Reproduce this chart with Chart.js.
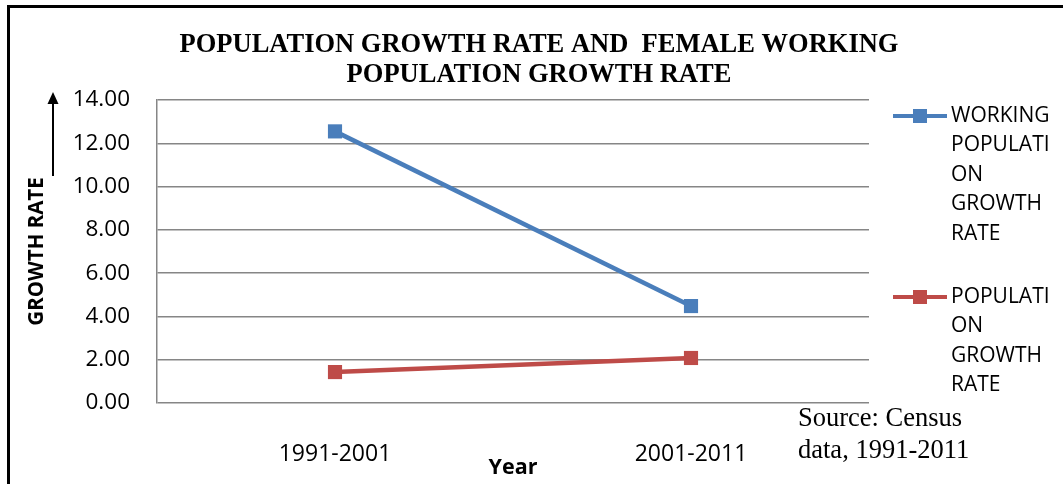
<!DOCTYPE html>
<html>
<head>
<meta charset="utf-8">
<script src="https://cdn.jsdelivr.net/npm/chart.js@4"></script>
<style>
  html, body { margin: 0; padding: 0; background: #fff; }
  #wrap { width: 1063px; height: 484px; }
</style>
</head>
<body>
<div id="wrap"><canvas id="growth-chart"></canvas></div>
<script>
// Chart data
const periods = ["1991-2001", "2001-2011"];
const workingGrowth = [12.55, 4.48];
const populationGrowth = [1.43, 2.08];
const yTicks = [0, 2, 4, 6, 8, 10, 12, 14];

const titleLines = ["POPULATION GROWTH RATE AND  FEMALE WORKING", "POPULATION GROWTH RATE"];
const seriesNames = ["WORKING POPULATION GROWTH RATE", "POPULATION GROWTH RATE"];
// legend text as it wraps in the original
const legendLines = [
  ["WORKING", "POPULATI", "ON", "GROWTH", "RATE"],
  ["POPULATI", "ON", "GROWTH", "RATE"],
];
const sourceLines = ["Source: Census", "data, 1991-2011"];

const blue = "#4a7ebb";
const red = "#be4b48";
const gridGrey = "#868686";

// Draws frame, title, arrow, legend and source note
const decorations = {
  id: "decorations",
  afterDraw(chart) {
    const ctx = chart.ctx;
    ctx.save();

    // frame (top and left edges)
    ctx.strokeStyle = "#000";
    ctx.lineWidth = 3;
    ctx.beginPath();
    ctx.moveTo(1063, 6.5);
    ctx.lineTo(8.5, 6.5);
    ctx.lineTo(8.5, 484);
    ctx.stroke();

    // title
    ctx.fillStyle = "#000";
    ctx.font = "bold 26.5px 'Liberation Serif', 'Times New Roman', serif";
    ctx.textAlign = "center";
    ctx.textBaseline = "middle";
    ctx.fillText(titleLines[0], 539, 45);
    ctx.fillText(titleLines[1], 539, 75);

    // arrow next to the y axis title
    ctx.lineWidth = 2;
    ctx.beginPath();
    ctx.moveTo(53, 176);
    ctx.lineTo(53, 100);
    ctx.stroke();
    ctx.beginPath();
    ctx.moveTo(53, 92);
    ctx.lineTo(47.5, 104);
    ctx.lineTo(58.5, 104);
    ctx.closePath();
    ctx.fill();

    // legend
    const tops = [116, 297];
    ctx.font = "21px 'Open Sans', sans-serif";
    ctx.textAlign = "left";
    chart.data.datasets.forEach((ds, i) => {
      const y = tops[i];
      ctx.strokeStyle = ds.borderColor;
      ctx.lineWidth = 4;
      ctx.beginPath();
      ctx.moveTo(893, y);
      ctx.lineTo(947, y);
      ctx.stroke();
      ctx.fillStyle = ds.borderColor;
      ctx.fillRect(913, y - 7, 14, 14);
      ctx.fillStyle = "#000";
      legendLines[i].forEach((line, j) => {
        ctx.fillText(line, 951, y + j * 29.5);
      });
    });

    // source note
    ctx.font = "26.5px 'Liberation Serif', 'Times New Roman', serif";
    ctx.fillText(sourceLines[0], 798, 419);
    ctx.fillText(sourceLines[1], 798, 451);

    ctx.restore();
  },
};

new Chart("growth-chart", {
  type: "line",
  data: {
    labels: periods,
    datasets: [
      {
        label: seriesNames[0],
        data: workingGrowth,
        borderColor: blue,
        backgroundColor: blue,
        borderWidth: 4.5,
        pointStyle: "rect",
        pointRadius: 10,
        pointBorderWidth: 0,
      },
      {
        label: seriesNames[1],
        data: populationGrowth,
        borderColor: red,
        backgroundColor: red,
        borderWidth: 4.5,
        pointStyle: "rect",
        pointRadius: 10,
        pointBorderWidth: 0,
      },
    ],
  },
  options: {
    responsive: true,
    maintainAspectRatio: false,
    animation: false,
    layout: { padding: { left: 10, top: 100, right: 194, bottom: 0 } },
    plugins: {
      legend: { display: false },
      title: { display: false },
      tooltip: { enabled: false },
    },
    scales: {
      x: {
        offset: true,
        grid: { display: false },
        border: { display: false },
        ticks: {
          color: "#000",
          padding: 30,
          font: { family: "'Open Sans', sans-serif", size: 23 },
        },
        title: {
          display: true,
          text: "Year",
          color: "#000",
          font: { family: "'Open Sans', sans-serif", size: 21.5, weight: "bold" },
          padding: { top: 0, bottom: 3 },
        },
        afterFit(scale) {
          scale.height = 81;
        },
      },
      y: {
        min: 0,
        max: 14,
        afterBuildTicks(scale) {
          scale.ticks = yTicks.map((v) => ({ value: v }));
        },
        grid: { color: gridGrey, lineWidth: 1.5, drawTicks: false },
        border: { display: true, color: gridGrey, width: 1.5 },
        ticks: {
          color: "#000",
          padding: 27,
          font: { family: "'Open Sans', sans-serif", size: 22.5 },
          callback: (v) => Number(v).toFixed(2),
        },
        title: {
          display: true,
          text: "GROWTH RATE",
          color: "#000",
          font: { family: "'Open Sans', sans-serif", size: 20.5, weight: "bold" },
          padding: { top: 15, bottom: 0 },
        },
        afterFit(scale) {
          scale.width = 147;
        },
      },
    },
  },
  plugins: [decorations],
});
</script>
</body>
</html>
